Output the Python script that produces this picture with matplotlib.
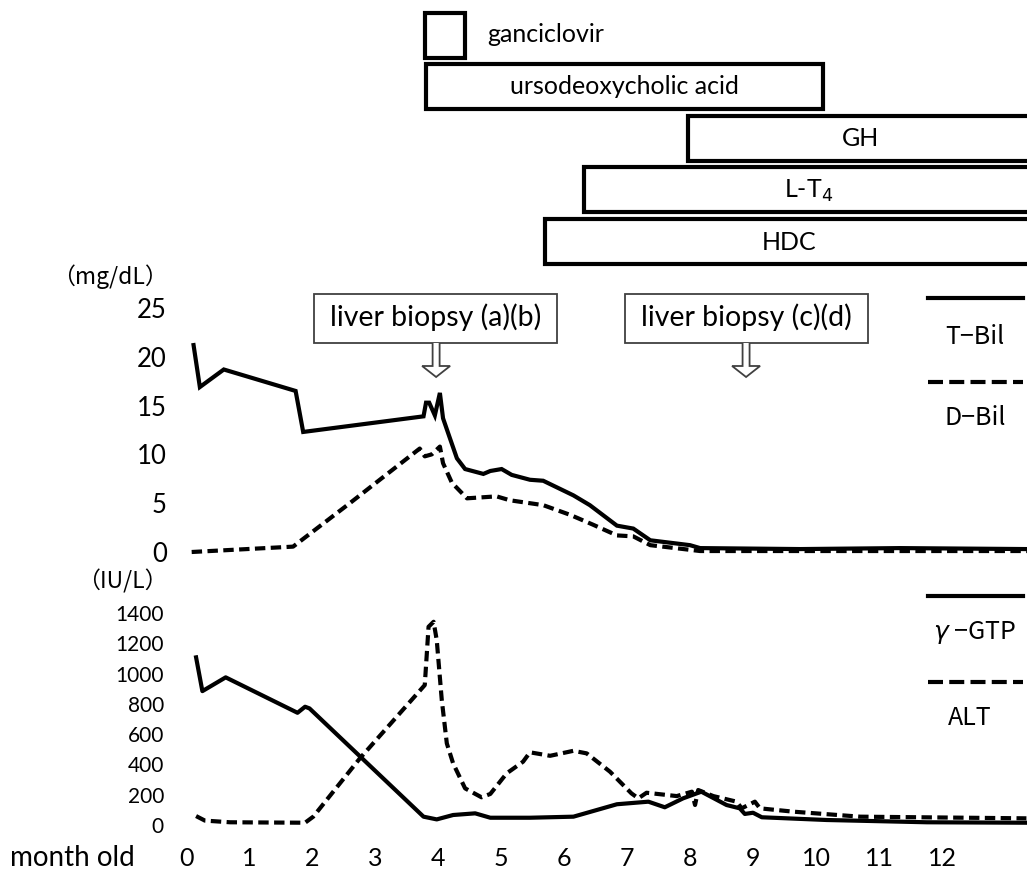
import matplotlib
matplotlib.use("Agg")
import matplotlib.pyplot as plt
from matplotlib.patches import Rectangle, Polygon
from matplotlib.lines import Line2D

# ---- data ----
# treatments: name, start month, end month
drug_names = ["ganciclovir", "ursodeoxycholic acid", "GH", "L-T$_4$", "HDC"]
drug_start = [3.79, 3.81, 7.97, 6.32, 5.70]
drug_end = [4.43, 10.11, 13.43, 13.43, 13.43]

biopsy_labels = ["liver biopsy (a)(b)", "liver biopsy (c)(d)"]
biopsy_months = [3.97, 8.89]

tbil_m = [0.12, 0.22, 0.60, 1.74, 1.86, 3.77, 3.81, 3.86, 3.95, 4.03, 4.08, 4.16,
          4.30, 4.43, 4.72, 4.83, 5.01, 5.17, 5.46, 5.67, 6.15, 6.41, 6.84, 7.10,
          7.37, 8.00, 8.16, 9.75, 11.33, 13.35]
tbil_v = [21.2, 16.9, 18.7, 16.5, 12.3, 13.9, 15.3, 15.3, 14.0, 16.3, 13.7, 12.2,
          9.6, 8.5, 8.0, 8.3, 8.5, 7.9, 7.4, 7.3, 5.8, 4.8, 2.7, 2.4,
          1.2, 0.7, 0.4, 0.3, 0.4, 0.3]

dbil_m = [0.09, 1.70, 2.60, 3.71, 3.79, 3.90, 4.03, 4.08, 4.22, 4.46, 4.93, 5.14,
          5.67, 6.10, 6.46, 6.84, 7.10, 7.37, 8.16, 13.35]
dbil_v = [0.0, 0.55, 5.0, 10.6, 9.8, 10.0, 10.8, 9.1, 7.1, 5.5, 5.7, 5.3,
          4.8, 3.8, 2.8, 1.7, 1.6, 0.7, 0.1, 0.1]

ggt_m = [0.16, 0.26, 0.63, 1.77, 1.89, 1.96, 3.77, 3.98, 4.24, 4.59, 4.83, 5.46,
         6.15, 6.84, 7.34, 7.60, 7.89, 8.18, 8.58, 8.79, 8.87, 9.00, 9.14, 10.17,
         11.76, 13.34]
ggt_v = [1107, 884, 975, 741, 781, 770, 55, 37, 66, 77, 48, 48,
         55, 137, 154, 117, 176, 220, 132, 110, 73, 81, 51, 33,
         18, 15]

alt_m = [0.16, 0.30, 0.70, 1.89, 2.02, 2.76, 3.79, 3.85, 3.93, 3.98, 4.06, 4.14,
         4.24, 4.43, 4.69, 4.83, 5.09, 5.35, 5.46, 5.78, 6.15, 6.36, 6.73, 7.07,
         7.18, 7.31, 7.79, 8.03, 8.08, 8.13, 8.37, 8.74, 8.82, 9.03, 9.11, 9.64,
         10.70, 13.34]
alt_v = [59, 29, 18, 15, 55, 440, 924, 1309, 1342, 1221, 825, 539,
         407, 242, 183, 205, 341, 418, 480, 457, 490, 473, 352, 209,
         176, 213, 191, 220, 132, 231, 191, 154, 110, 154, 110, 88,
         55, 44]

month_ticks = list(range(13))
bil_ticks = [0, 5, 10, 15, 20, 25]
enz_ticks = [0, 200, 400, 600, 800, 1000, 1200, 1400]

# ---- layout helpers (pixel based) ----
W, H = 1027, 874
X0, PXM = 186, 63.0          # pixel of month 0, pixels per month
AX_L = 175
xlim = ((AX_L - X0) / PXM, (W - X0) / PXM)


def rect(top, bottom):
    return [AX_L / W, 1 - bottom / H, (W - AX_L) / W, (bottom - top) / H]


def mpx(m):
    return X0 + PXM * m


latin = "Lato"
jp = ["Noto Sans CJK JP", "DejaVu Sans"]

fig = plt.figure(figsize=(W / 100, H / 100), dpi=100)

# overlay in pixel coordinates
ov = fig.add_axes([0, 0, 1, 1])
ov.set_xlim(0, W)
ov.set_ylim(H, 0)
ov.axis("off")

# ---- treatment bars ----
ax_bar = fig.add_axes(rect(0, 280))
ax_bar.set_xlim(*xlim)
ax_bar.set_ylim(280, 0)
ax_bar.axis("off")
bar_y = [35, 86, 138, 189.5, 241.5]
for name, s, e, y in zip(drug_names, drug_start, drug_end, bar_y):
    ax_bar.barh(y, e - s, left=s, height=45, color="white", edgecolor="black",
                linewidth=3)
    if name == "ganciclovir":
        ax_bar.text(e + 0.35, y, name, ha="left", va="center", fontsize=18,
                    family=latin)
    else:
        ax_bar.text((s + e) / 2, y + 1, name, ha="center", va="center",
                    fontsize=18, family=latin)

# ---- bilirubin panel ----
ax1 = fig.add_axes(rect(308, 552))
ax1.set_xlim(*xlim)
ax1.set_ylim(0, 25)
l1, = ax1.plot(tbil_m, tbil_v, color="black", lw=3, clip_on=False,
               solid_joinstyle="miter")
l2, = ax1.plot(dbil_m, dbil_v, color="black", lw=3, clip_on=False)
l2.set_dashes((2.5, 1.3))
ax1.set_yticks(bil_ticks)
ax1.set_xticks([])

# ---- enzyme panel ----
ax2 = fig.add_axes(rect(613, 825))
ax2.set_xlim(*xlim)
ax2.set_ylim(0, 1400)
ax2.plot(ggt_m, ggt_v, color="black", lw=3, clip_on=False)
l4, = ax2.plot(alt_m, alt_v, color="black", lw=3, clip_on=False)
l4.set_dashes((2.5, 1.3))
ax2.set_yticks(enz_ticks)
ax2.set_xticks(month_ticks)

for ax in (ax1, ax2):
    ax.patch.set_alpha(0)
    for sp in ax.spines.values():
        sp.set_visible(False)
    ax.tick_params(length=0)
ax1.tick_params(axis="y", pad=6, labelsize=18.5)
ax2.tick_params(axis="y", pad=8, labelsize=15)
ax2.tick_params(axis="x", pad=16, labelsize=18)
for lab in ax1.get_yticklabels() + ax2.get_yticklabels() + ax2.get_xticklabels():
    lab.set_family(latin)

ov.set_zorder(5)

# units and axis title
ov.text(168, 277, "（mg/dL）", ha="right", va="center", fontsize=16.5, family=jp)
ov.text(168, 581, "（IU/L）", ha="right", va="center", fontsize=16.5, family=jp)
ov.text(10, 858, "month old", ha="left", va="center", fontsize=20, family=latin)

# biopsy call-outs
box_x = [314, 625]
for lab, m, bx in zip(biopsy_labels, biopsy_months, box_x):
    ov.add_patch(Rectangle((bx, 294), 243, 49, facecolor="white",
                           edgecolor="#404040", lw=1.3))
    ov.text(bx + 121.5, 317, lab, ha="center", va="center", fontsize=20.5,
            family=latin)
    cx = mpx(m)
    pts = [(cx - 3.5, 343), (cx - 3.5, 366), (cx - 14, 366), (cx, 377),
           (cx + 14, 366), (cx + 3.5, 366), (cx + 3.5, 343)]
    ov.add_patch(Polygon(pts, closed=False, facecolor="white",
                         edgecolor="#404040", lw=1.3))

# legends
leg = [("T−Bil", 298, 337, "-"), ("D−Bil", 382, 418, "--"),
       ("$\\gamma$ −GTP", 596, 632, "-"), ("ALT", 682, 718, "--")]
for txt, ly, ty, st in leg:
    ln = Line2D([928, 1023], [ly, ly], color="black", lw=3)
    if st == "--":
        ln.set_dashes((3.6, 1.5))
        ln.set_dash_capstyle("butt")
    ov.add_line(ln)
    tx = 970 if txt == "ALT" else 975
    ov.text(tx, ty, txt, ha="center", va="center", fontsize=18, family=jp)

fig.savefig("out.png", dpi=100, facecolor="white")
